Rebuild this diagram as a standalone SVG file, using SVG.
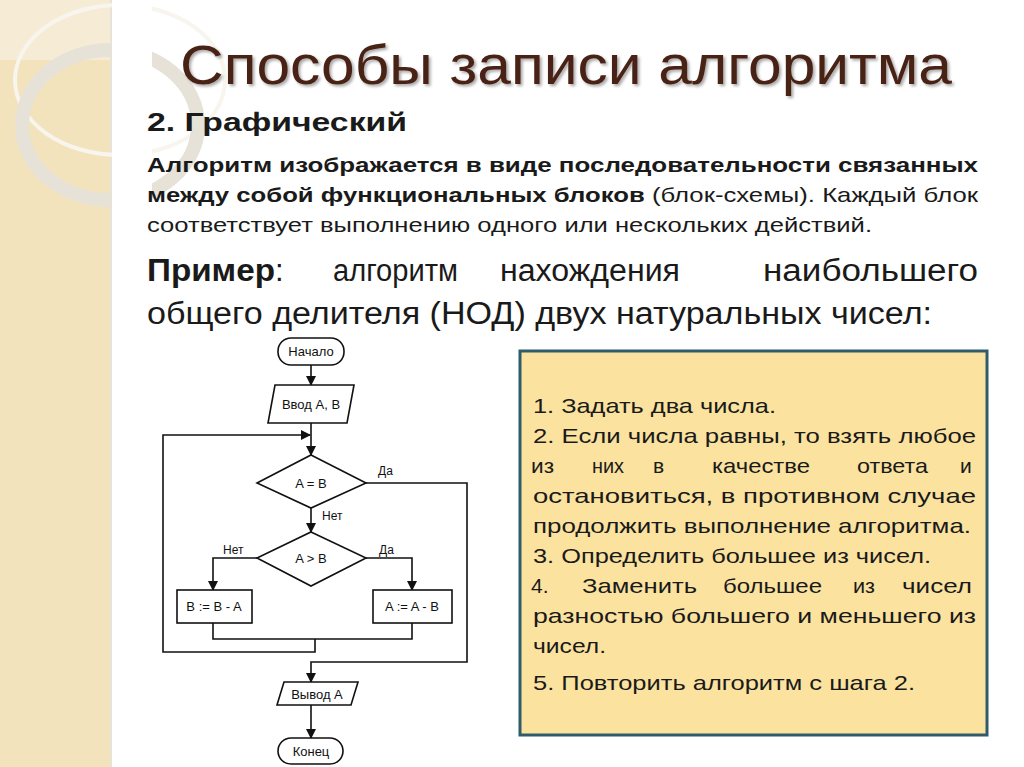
<svg xmlns="http://www.w3.org/2000/svg" width="1024" height="767" viewBox="0 0 1024 767">
<defs>
<marker id="ah" markerWidth="10" markerHeight="10" refX="9" refY="5" orient="auto" markerUnits="userSpaceOnUse"><path d="M0,0 L10,5 L0,10 z" fill="#111"/></marker>
<filter id="sh"><feDropShadow dx="2" dy="2" stdDeviation="1.5" flood-color="#000" flood-opacity="0.35"/></filter>
</defs>
<style>
.t{font-family:"Liberation Sans",Arial,sans-serif;fill:#1a1a1a}
.fc{font-family:"Liberation Sans",Arial,sans-serif;font-size:13px;fill:#111;text-anchor:middle}
.lb{font-family:"Liberation Sans",Arial,sans-serif;font-size:12px;fill:#111}
.sh{fill:#fff;stroke:#111;stroke-width:1.6}
.ln{fill:none;stroke:#111;stroke-width:1.6}
.bx{font-family:"Liberation Sans",Arial,sans-serif;font-size:21px;fill:#1a1a1a}
</style>
<rect width="1024" height="767" fill="#fff"/>
<rect width="110" height="767" fill="#f3e3bd"/>
<rect x="0" y="0" width="110" height="60" fill="#f6ecd6"/>
<line x1="111" y1="0" x2="111" y2="767" stroke="#e8e3d8" stroke-width="2"/>
<g fill="none">
<ellipse cx="120" cy="80" rx="105" ry="75" stroke="#f8f5ee" stroke-width="4"/>
<ellipse cx="110" cy="125" rx="88" ry="75" stroke="#e6e2d8" stroke-width="14"/>
</g>
<rect x="112" y="0" width="40" height="767" fill="#fff"/>
<text x="180" y="84" font-family="Liberation Sans,Arial,sans-serif" font-size="56" fill="#4a2418" filter="url(#sh)" textLength="772" lengthAdjust="spacingAndGlyphs">Способы записи алгоритма</text>
<text class="t" x="147" y="131" font-size="25" font-weight="bold" textLength="260" lengthAdjust="spacingAndGlyphs">2. Графический</text>
<g class="t" font-size="21">
<text x="147" y="172" font-weight="bold" textLength="831" lengthAdjust="spacingAndGlyphs">Алгоритм изображается в виде последовательности связанных</text>
<text x="147" y="202" textLength="831" lengthAdjust="spacingAndGlyphs"><tspan font-weight="bold">между собой функциональных блоков</tspan> (блок-схемы). Каждый блок</text>
<text x="147" y="232" textLength="725" lengthAdjust="spacingAndGlyphs">соответствует выполнению одного или нескольких действий.</text>
</g>
<g class="t" font-size="31">
<text y="281"><tspan x="147" font-weight="bold" textLength="128" lengthAdjust="spacingAndGlyphs">Пример</tspan><tspan>:</tspan></text>
<text y="281" x="333" textLength="125" lengthAdjust="spacingAndGlyphs">алгоритм</text>
<text y="281" x="500" textLength="180" lengthAdjust="spacingAndGlyphs">нахождения</text>
<text y="281" x="763" textLength="215" lengthAdjust="spacingAndGlyphs">наибольшего</text>
<text x="147" y="324" textLength="785" lengthAdjust="spacingAndGlyphs">общего делителя (НОД) двух натуральных чисел:</text>
</g>
<rect x="147" y="337" width="323" height="430" fill="#fff"/>
<g id="connectors">
<line class="ln" x1="311" y1="365" x2="311" y2="385" marker-end="url(#ah)"/>
<line class="ln" x1="311" y1="423" x2="311" y2="455" marker-end="url(#ah)"/>
<polyline class="ln" points="315,639 315,652 163,652 163,435 310,435" marker-end="url(#ah)"/>
<line class="ln" x1="311" y1="508" x2="311" y2="532" marker-end="url(#ah)"/>
<polyline class="ln" points="366,483 467,483 467,662 311,662 311,682" marker-end="url(#ah)"/>
<polyline class="ln" points="257,558 213,558 213,590" marker-end="url(#ah)"/>
<polyline class="ln" points="366,558 412,558 412,590" marker-end="url(#ah)"/>
<polyline class="ln" points="213,623 213,639 412,639 412,623"/>
<line class="ln" x1="311" y1="705" x2="311" y2="738" marker-end="url(#ah)"/>
<text class="lb" x="378" y="475">Да</text>
<text class="lb" x="322" y="520">Нет</text>
<text class="lb" x="223" y="554">Нет</text>
<text class="lb" x="379" y="554">Да</text>
</g>
<g id="start"><rect class="sh" x="278" y="338" width="66" height="27" rx="13"/><text class="fc" x="311" y="356">Начало</text></g>
<g id="input"><polygon class="sh" points="275,385 354,385 347,423 268,423"/><text class="fc" x="311" y="409">Ввод A, B</text></g>
<g id="cond1"><polygon class="sh" points="311,455 366,483 311,508 257,483"/><text class="fc" x="311" y="488">A = B</text></g>
<g id="cond2"><polygon class="sh" points="311,532 366,558 311,586 257,558"/><text class="fc" x="311" y="563">A &gt; B</text></g>
<g id="subB"><rect class="sh" x="177" y="590" width="75" height="33"/><text class="fc" x="214" y="611">B := B - A</text></g>
<g id="subA"><rect class="sh" x="373" y="590" width="79" height="33"/><text class="fc" x="412" y="611">A := A - B</text></g>
<g id="output"><polygon class="sh" points="284,682 358,682 351,705 277,705"/><text class="fc" x="317" y="699">Вывод A</text></g>
<g id="end"><rect class="sh" x="278" y="738" width="65" height="26" rx="13"/><text class="fc" x="311" y="756">Конец</text></g>
<g id="steps">
<rect x="520" y="351" width="467" height="384" fill="#fbe39f" stroke="#2e5c6b" stroke-width="3"/>
<g class="bx">
<text x="533" y="413" textLength="243" lengthAdjust="spacingAndGlyphs">1. Задать два числа.</text>
<text x="533" y="443" textLength="443" lengthAdjust="spacingAndGlyphs">2. Если числа равны, то взять любое</text>
<text y="473" x="531" textLength="23" lengthAdjust="spacingAndGlyphs">из</text>
<text y="473" x="592" textLength="32" lengthAdjust="spacingAndGlyphs">них</text>
<text y="473" x="653">в</text>
<text y="473" x="712" textLength="98" lengthAdjust="spacingAndGlyphs">качестве</text>
<text y="473" x="857" textLength="71" lengthAdjust="spacingAndGlyphs">ответа</text>
<text y="473" x="960">и</text>
<text x="533" y="503" textLength="443" lengthAdjust="spacingAndGlyphs">остановиться, в противном случае</text>
<text x="533" y="533" textLength="438" lengthAdjust="spacingAndGlyphs">продолжить выполнение алгоритма.</text>
<text x="533" y="563" textLength="398" lengthAdjust="spacingAndGlyphs">3. Определить большее из чисел.</text>
<text y="593" x="531">4.</text>
<text y="593" x="582" textLength="115" lengthAdjust="spacingAndGlyphs">Заменить</text>
<text y="593" x="723" textLength="99" lengthAdjust="spacingAndGlyphs">большее</text>
<text y="593" x="853" textLength="22" lengthAdjust="spacingAndGlyphs">из</text>
<text y="593" x="902" textLength="70" lengthAdjust="spacingAndGlyphs">чисел</text>
<text x="533" y="623" textLength="443" lengthAdjust="spacingAndGlyphs">разностью большего и меньшего из</text>
<text x="533" y="653" textLength="73" lengthAdjust="spacingAndGlyphs">чисел.</text>
<text x="533" y="690" textLength="382" lengthAdjust="spacingAndGlyphs">5. Повторить алгоритм с шага 2.</text>
</g>
</g>
</svg>
